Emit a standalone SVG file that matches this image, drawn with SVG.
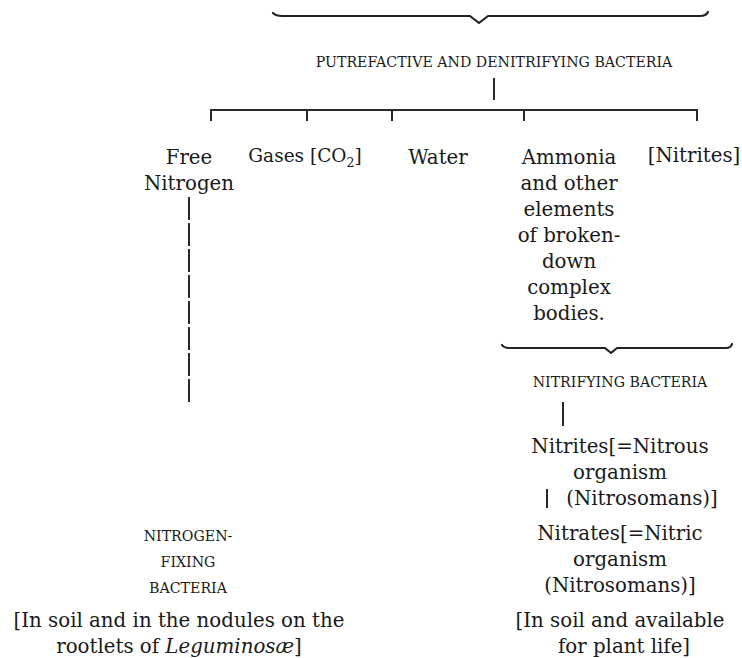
<svg xmlns="http://www.w3.org/2000/svg" width="742" height="658" viewBox="0 0 742 658">
<style>
text{font-family:"DejaVu Serif","Liberation Serif",serif;fill:#1a1a1a;text-anchor:middle}
.t{font-size:19.8px}
.sc{font-size:14.2px}
.ln{stroke:#2a2a2a;stroke-width:2;fill:none}
.br{stroke:#222;stroke-width:2.2;fill:none;stroke-linejoin:round;stroke-linecap:round}
</style>
<rect width="742" height="658" fill="#fff"/>
<g id="connectors">
<path class="br" d="M273,13 Q276,16 282,16 L470,16 L479,23 L488,16 L700,16 Q706,16 708,12"/>
<line class="ln" x1="494" y1="78" x2="494" y2="100"/>
<path class="ln" d="M211,121 V110 H697 V121"/>
<line class="ln" x1="307" y1="110" x2="307" y2="121"/>
<line class="ln" x1="392" y1="110" x2="392" y2="121"/>
<line class="ln" x1="524" y1="110" x2="524" y2="121"/>
<line class="ln" x1="189" y1="197" x2="189" y2="404" stroke-dasharray="23,3"/>
<path class="br" d="M502,345 Q504,348 509,348 L605,348 L611,353 L617,348 L726,348 Q731,348 732,344"/>
<line class="ln" x1="563" y1="402" x2="563" y2="426"/>
</g>
<g id="n-top"><text class="sc" x="494" y="67">PUTREFACTIVE AND DENITRIFYING BACTERIA</text></g>
<g id="n-free"><text class="t" x="189" y="164">Free</text><text class="t" x="189" y="190">Nitrogen</text></g>
<g id="n-gases"><text x="305" y="162" style="font-size:18.5px">Gases [CO<tspan style="font-size:12.5px" dy="5">2</tspan><tspan dy="-5">]</tspan></text></g>
<g id="n-water"><text class="t" x="438" y="164">Water</text></g>
<g id="n-ammonia">
<text class="t" x="569" y="164">Ammonia</text>
<text class="t" x="569" y="190">and other</text>
<text class="t" x="569" y="216">elements</text>
<text class="t" x="569" y="242">of broken-</text>
<text class="t" x="569" y="268">down</text>
<text class="t" x="569" y="294">complex</text>
<text class="t" x="569" y="320">bodies.</text>
</g>
<g id="n-nitrites-top"><text class="t" x="694" y="162">[Nitrites]</text></g>
<g id="n-nitrifying"><text class="sc" x="620" y="387">NITRIFYING BACTERIA</text></g>
<g id="n-nitrites">
<text class="t" x="620" y="453">Nitrites[=Nitrous</text>
<text class="t" x="620" y="479">organism</text>
<text class="t" x="642" y="505">(Nitrosomans)]</text>
<line class="ln" x1="547" y1="489" x2="547" y2="508"/>
</g>
<g id="n-nitrates">
<text class="t" x="620" y="540">Nitrates[=Nitric</text>
<text class="t" x="620" y="566">organism</text>
<text class="t" x="620" y="592">(Nitrosomans)]</text>
</g>
<g id="n-available">
<text class="t" x="620" y="627">[In soil and available</text>
<text class="t" x="624" y="653">for plant life]</text>
</g>
<g id="n-fixing">
<text class="sc" x="188" y="541">NITROGEN-</text>
<text class="sc" x="188" y="567">FIXING</text>
<text class="sc" x="188" y="593">BACTERIA</text>
</g>
<g id="n-soil">
<text class="t" x="179" y="627">[In soil and in the nodules on the</text>
<text class="t" x="179" y="653">rootlets of <tspan font-style="italic">Leguminosæ</tspan>]</text>
</g>
</svg>
